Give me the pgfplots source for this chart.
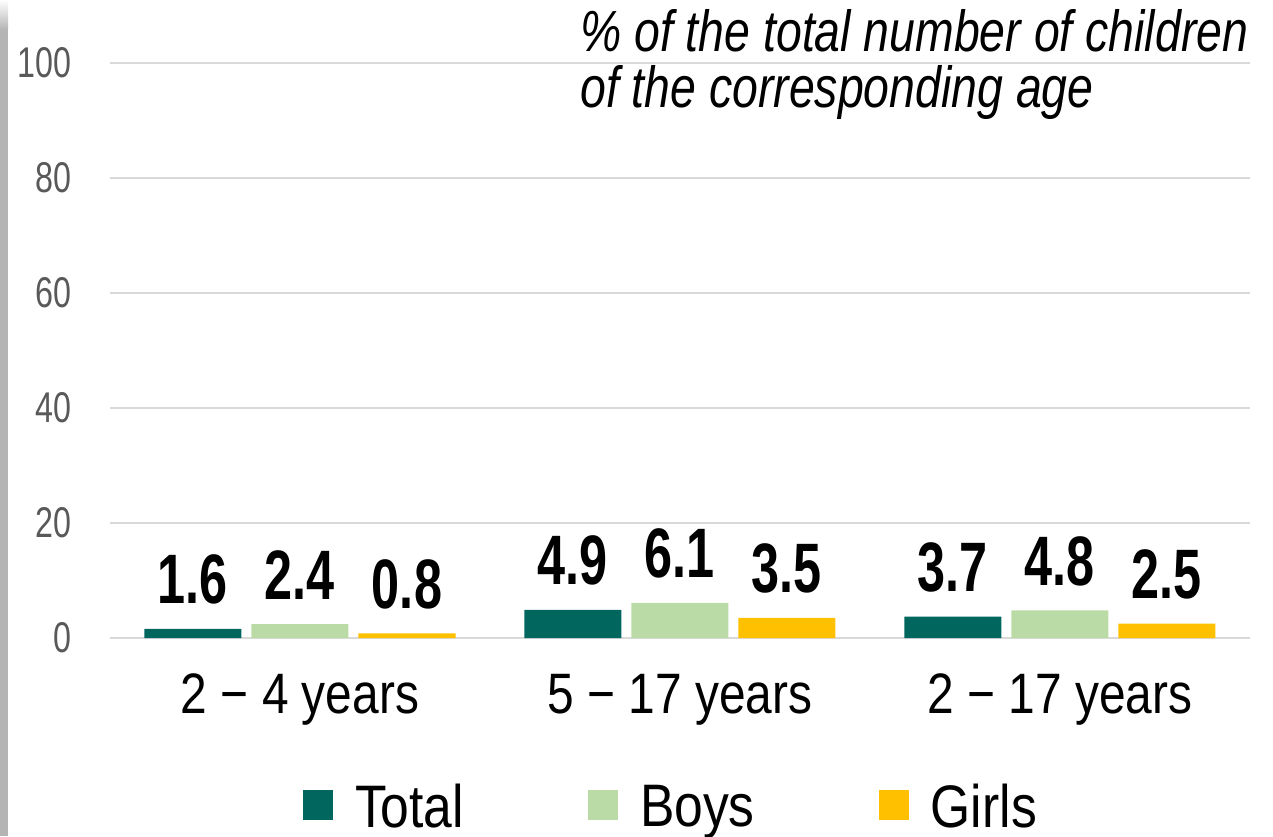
\documentclass[border=0pt]{standalone}
\usepackage{pgfplots}
\pgfplotsset{compat=1.18}
\usepackage{fontspec}
\setmainfont{Liberation Sans}[FakeStretch=0.8]
\newfontfamily\tickfont{Liberation Sans}[FakeStretch=0.75]
\newfontfamily\labfont{Liberation Sans}[FakeStretch=0.72]
\newfontfamily\catfont{Liberation Sans}[FakeStretch=0.84]
\newfontfamily\legfont{Liberation Sans}[FakeStretch=0.86]
\definecolor{cTotal}{RGB}{0,102,94}
\definecolor{cBoys}{RGB}{186,219,166}
\definecolor{cGirls}{RGB}{255,192,0}
\definecolor{cGrid}{RGB}{217,217,217}
\definecolor{cTick}{RGB}{89,89,89}
\definecolor{cBar}{RGB}{180,180,180}
\begin{document}
\begin{tikzpicture}
\fill[cBar] (0pt,0pt) rectangle (8pt,806pt);
\shade[top color=white,bottom color=cBar] (0pt,806pt) rectangle (8pt,836pt);
\begin{axis}[
  at={(110pt,198pt)}, anchor=south west,
  scale only axis, width=1140pt, height=575pt,
  ymin=0, ymax=100, xmin=-0.5, xmax=2.5,
  ytick={0,20,...,100}, xtick={0,1,2},
  xticklabels={2 − 4 years, 5 − 17 years, 2 − 17 years},
  ymajorgrids, grid style={cGrid, line width=1.5pt},
  axis line style={draw=none},
  major tick length=0pt,
  tick style={draw=none},
  yticklabel style={anchor=east, inner sep=0pt, xshift=-38pt, font=\tickfont\fontsize{43}{48}\selectfont, text=cTick},
  xticklabel style={anchor=base, inner sep=0pt, yshift=-75pt, font=\catfont\fontsize{57}{64}\selectfont},
  /pgf/number format/assume math mode=true,
  ybar=10pt, bar width=97pt,
  nodes near coords={\pgfmathprintnumber[fixed,fixed zerofill,precision=1]{\pgfplotspointmeta}},
  every node near coord/.append style={anchor=base, yshift=25pt, inner sep=0pt, font=\labfont\bfseries\fontsize{70}{78}\selectfont},
  legend columns=3,
  legend image code/.code={\fill[#1] (0pt,-13pt) rectangle (30pt,17pt);},
  legend style={at={(axis description cs:0.4912,-0.2938)}, anchor=center, draw=none, fill=none,
    font=\legfont\fontsize{60}{66}\selectfont, nodes={inner sep=0pt},
    /tikz/every odd column/.style={column sep=22pt},
    /tikz/every even column/.style={column sep=124pt}},
]
\addplot[fill=cTotal, draw=none] coordinates {(0,1.6) (1,4.9) (2,3.7)};
\addplot[fill=cBoys, draw=none] coordinates {(0,2.4) (1,6.1) (2,4.8)};
\addplot[fill=cGirls, draw=none] coordinates {(0,0.8) (1,3.5) (2,2.5)};
\legend{Total,Boys,Girls}
\end{axis}
\node[anchor=base west, inner sep=0pt, font=\itshape\fontsize{58}{64}\selectfont] at (580pt,784pt) {\% of the total number of children};
\node[anchor=base west, inner sep=0pt, font=\itshape\fontsize{58}{64}\selectfont] at (580pt,728pt) {of the corresponding age};
\pgfresetboundingbox
\useasboundingbox (0pt,0pt) rectangle (1273pt,836pt);
\end{tikzpicture}
\end{document}
